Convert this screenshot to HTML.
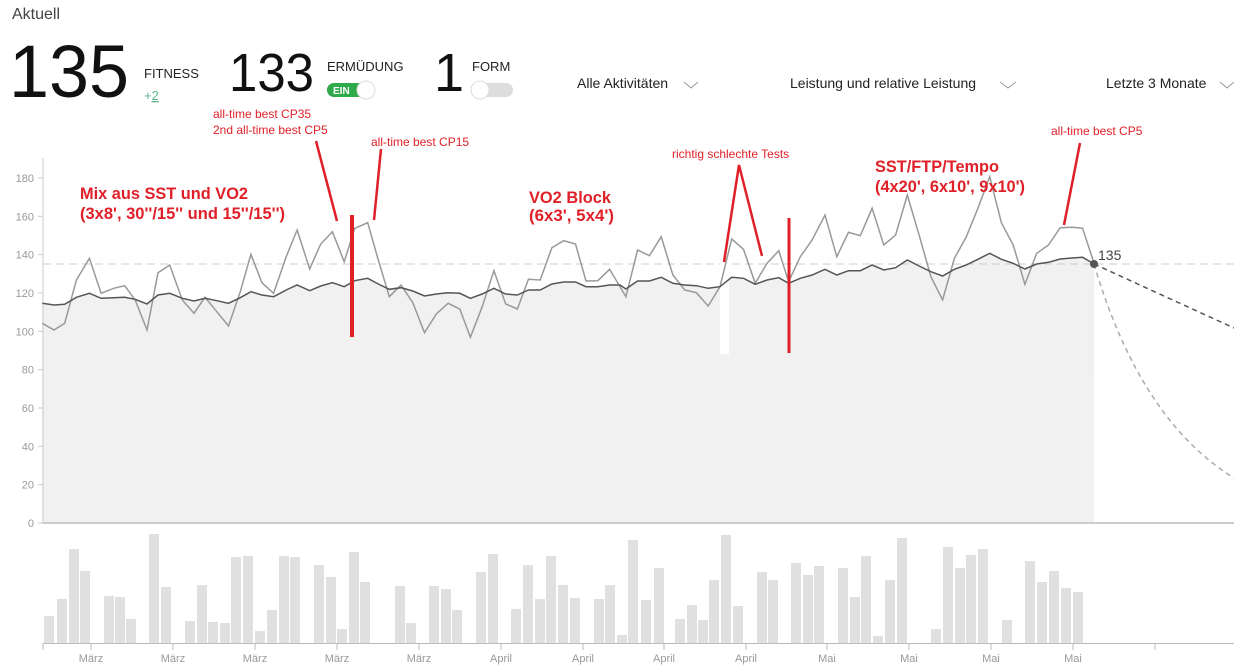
<!DOCTYPE html>
<html><head><meta charset="utf-8"><style>
body{margin:0;width:1234px;height:669px;background:#fff;overflow:hidden;font-family:"Liberation Sans",sans-serif;}
svg{position:absolute;left:0;top:0}
</style></head><body>
<svg id="s" width="1234" height="669" xmlns="http://www.w3.org/2000/svg" font-family="Liberation Sans, sans-serif">
<text x="12" y="19" font-size="16" fill="#444">Aktuell</text>
<text x="9" y="97" font-size="74" fill="#111" textLength="120" lengthAdjust="spacingAndGlyphs">135</text>
<text x="144" y="78" font-size="13" fill="#222">FITNESS</text>
<text x="144" y="100" font-size="13" fill="#5cb88a">+<tspan text-decoration="underline">2</tspan></text>
<text x="229" y="91" font-size="54" fill="#111" textLength="85" lengthAdjust="spacingAndGlyphs">133</text>
<text x="327" y="71" font-size="13" fill="#222">ERMÜDUNG</text>
<rect x="327" y="83" width="46" height="14" rx="7" fill="#2eaa4a"/>
<text x="333" y="94" font-size="10" font-weight="bold" fill="#fff">EIN</text>
<circle cx="366" cy="90" r="9" fill="#fff" stroke="#ddd"/>
<text x="434" y="91" font-size="54" fill="#111">1</text>
<text x="472" y="71" font-size="13" fill="#222">FORM</text>
<rect x="474" y="83" width="39" height="14" rx="7" fill="#ddd"/>
<circle cx="480" cy="90" r="9" fill="#fff" stroke="#ddd"/>
<text x="577" y="88" font-size="14" fill="#222">Alle Aktivitäten</text>
<polyline points="684,82 691,88 698,82" fill="none" stroke="#999" stroke-width="1"/>
<text x="790" y="88" font-size="14" fill="#222">Leistung und relative Leistung</text>
<polyline points="1000,82 1008,88 1016,82" fill="none" stroke="#999" stroke-width="1"/>
<text x="1106" y="88" font-size="14" fill="#222">Letzte 3 Monate</text>
<polyline points="1220,82 1227,88 1234,82" fill="none" stroke="#999" stroke-width="1"/>
<g id="g"></g>
</svg>
<script>
const g=document.getElementById('g');let h='';
const k=0.392;
const z2g=[[108,490],[138,510],[165,490],[195,360],[228,295],[258,400],[290,385],[318,377],[345,420],[375,510],[403,338],[433,315],[465,420],[495,460],[523,412],[553,455],[583,498],[613,395],[640,283],[668,368],[698,400],[730,290],[758,210],[790,327],[818,252],[848,215],[878,305],[905,205],[938,188],[965,300],[993,410],[1023,375],[1053,428],[1083,518],[1113,462],[1143,430],[1173,447],[1200,532],[1230,440],[1260,332],[1290,432],[1320,447],[1348,358],[1378,360],[1408,263],[1438,242],[1468,252],[1495,363],[1525,362],[1555,328]];
const z2d=[[108,430],[138,435],[165,433],[195,412],[228,400],[258,415],[290,413],[318,412],[345,418],[375,432],[403,405],[433,400],[465,415],[495,423],[523,415],[553,422],[583,430],[613,413],[640,395],[668,405],[698,410],[730,390],[758,375],[790,392],[818,378],[848,368],[878,380],[905,362],[938,355],[965,372],[993,388],[1023,383],[1053,393],[1083,408],[1113,402],[1143,398],[1173,400],[1200,415],[1230,402],[1260,385],[1290,402],[1320,405],[1348,390],[1378,390],[1408,372],[1438,366],[1468,366],[1495,380],[1525,380],[1555,375]];
const z3g=[[0,380],[15,410],[45,270],[75,287],[105,230],[135,345],[165,390],[195,398],[225,438],[255,380],[285,237],[315,268],[345,370],[375,310],[405,272],[430,365],[460,290],[490,240],[523,165],[553,290],[583,217],[613,227],[643,145],[673,255],[703,225],[733,105],[763,225],[793,350],[823,420],[853,295],[883,232],[913,145],[943,50],[973,188],[1003,255],[1033,373],[1063,280],[1093,255],[1123,203],[1153,202],[1180,205],[1210,312]];
const z3d=[[0,375],[15,387],[45,363],[75,363],[105,352],[135,370],[165,375],[195,377],[225,385],[255,380],[285,352],[315,355],[345,373],[375,360],[405,353],[430,370],[460,355],[490,345],[523,328],[553,345],[583,332],[613,332],[643,315],[673,330],[703,323],[733,300],[763,318],[793,335],[823,348],[853,328],[883,315],[913,298],[943,280],[973,298],[1003,310],[1033,327],[1063,312],[1093,307],[1123,297],[1153,294],[1180,292],[1210,312]];
const c2=p=>[(p[0]*k).toFixed(1),(160+p[1]/3).toFixed(1)];
const c3=p=>[(620+p[0]*k).toFixed(1),(160+p[1]/3).toFixed(1)];
const gr=z2g.map(c2).concat(z3g.map(c3)), dk=z2d.map(c2).concat(z3d.map(c3));
const pts=a=>a.map(p=>p.join(',')).join(' ');
h+=`<polygon points="${dk[0][0]},523 ${pts(dk)} 1094,523" fill="#f1f1f1"/>`;
h+=`<line x1="43" y1="158" x2="43" y2="523" stroke="#ccc"/><line x1="43" y1="523" x2="1234" y2="523" stroke="#ccc" stroke-width="2"/>`;
for(let v=0;v<=180;v+=20){const y=523-v*1.917;h+=`<text x="34" y="${y+4}" font-size="11" fill="#999" text-anchor="end">${v}</text><line x1="38" y1="${y}" x2="43" y2="${y}" stroke="#ccc"/>`;}
h+=`<line x1="43" y1="264" x2="1234" y2="264" stroke="#ccc" stroke-dasharray="8,5"/>`;
h+=`<rect x="720" y="262" width="9" height="92" fill="#fff"/>`;
h+=`<polyline points="${pts(gr)}" fill="none" stroke="#999" stroke-width="1.5"/>`;
h+=`<polyline points="${pts(dk)}" fill="none" stroke="#555" stroke-width="1.5"/>`;
h+=`<line x1="1094" y1="264" x2="1234" y2="328" stroke="#555" stroke-width="1.5" stroke-dasharray="5,4"/>`;
h+=`<path d="M1094,264 Q1140,420 1234,478" fill="none" stroke="#aaa" stroke-width="1.5" stroke-dasharray="5,4"/>`;
h+=`<circle cx="1094" cy="264" r="4" fill="#555"/><text x="1098" y="260" font-size="14" fill="#444">135</text>`;
const R='#e02028';
h+=`<line x1="352" y1="215" x2="352" y2="337" stroke="${R}" stroke-width="4"/>`;
h+=`<line x1="789" y1="218" x2="789" y2="353" stroke="${R}" stroke-width="3"/>`;
h+=`<line x1="316" y1="141" x2="337" y2="221" stroke="${R}" stroke-width="2.5"/>`;
h+=`<line x1="381" y1="149" x2="374" y2="220" stroke="${R}" stroke-width="2.5"/>`;
h+=`<polyline points="724,262 739,165 762,256" fill="none" stroke="${R}" stroke-width="2.5"/>`;
h+=`<line x1="1080" y1="143" x2="1064" y2="225" stroke="${R}" stroke-width="2.5"/>`;
const sm=[[213,118,'all-time best CP35'],[213,134,'2nd all-time best CP5'],[371,146,'all-time best CP15'],[672,158,'richtig schlechte Tests'],[1051,135,'all-time best CP5']];
sm.forEach(t=>h+=`<text x="${t[0]}" y="${t[1]}" font-size="12" fill="${R}">${t[2]}</text>`);
const bg=[[80,199,'Mix aus SST und VO2',168],[80,219,"(3x8', 30''/15'' und 15''/15'')",205],[529,203,'VO2 Block',82],[529,221,"(6x3', 5x4')",85],[875,172,'SST/FTP/Tempo',124],[875,192,"(4x20', 6x10', 9x10')",150]];
bg.forEach(t=>h+=`<text x="${t[0]}" y="${t[1]}" font-size="16.5" font-weight="bold" fill="${R}" textLength="${t[3]}" lengthAdjust="spacingAndGlyphs">${t[2]}</text>`);
const bars=[[44,616],[57,599],[69,549],[80,571],[104,596],[115,597],[126,619],[149,534],[161,587],[185,621],[197,585],[208,622],[220,623],[231,557],[243,556],[255,631],[267,610],[279,556],[290,557],[314,565],[326,577],[337,629],[349,552],[360,582],[395,586],[406,623],[429,586],[441,589],[452,610],[476,572],[488,554],[511,609],[523,565],[535,599],[546,556],[558,585],[570,598],[594,599],[605,585],[617,635],[628,540],[641,600],[654,568],[675,619],[687,605],[698,620],[709,580],[721,535],[733,606],[757,572],[768,580],[791,563],[803,575],[814,566],[838,568],[850,597],[861,556],[873,636],[885,580],[897,538],[931,629],[943,547],[955,568],[966,555],[978,549],[1002,620],[1025,561],[1037,582],[1049,571],[1061,588],[1073,592]];
bars.forEach(b=>h+=`<rect x="${b[0]}" y="${b[1]}" width="10" height="${643-b[1]}" fill="#e0e0e0"/>`);
h+=`<line x1="43" y1="643.5" x2="1234" y2="643.5" stroke="#bbb"/>`;
const tk=[91,173,255,337,419,501,583,664,746,827,909,991,1073,1155];
const lb=['März','März','März','März','März','April','April','April','April','Mai','Mai','Mai','Mai',''];
h+=`<line x1="43" y1="643" x2="43" y2="650" stroke="#bbb"/>`;
tk.forEach((x,i)=>{h+=`<line x1="${x}" y1="643" x2="${x}" y2="650" stroke="#bbb"/><text x="${x}" y="662" font-size="11" fill="#999" text-anchor="middle">${lb[i]}</text>`;});
g.innerHTML=h;
</script>
</body></html>
